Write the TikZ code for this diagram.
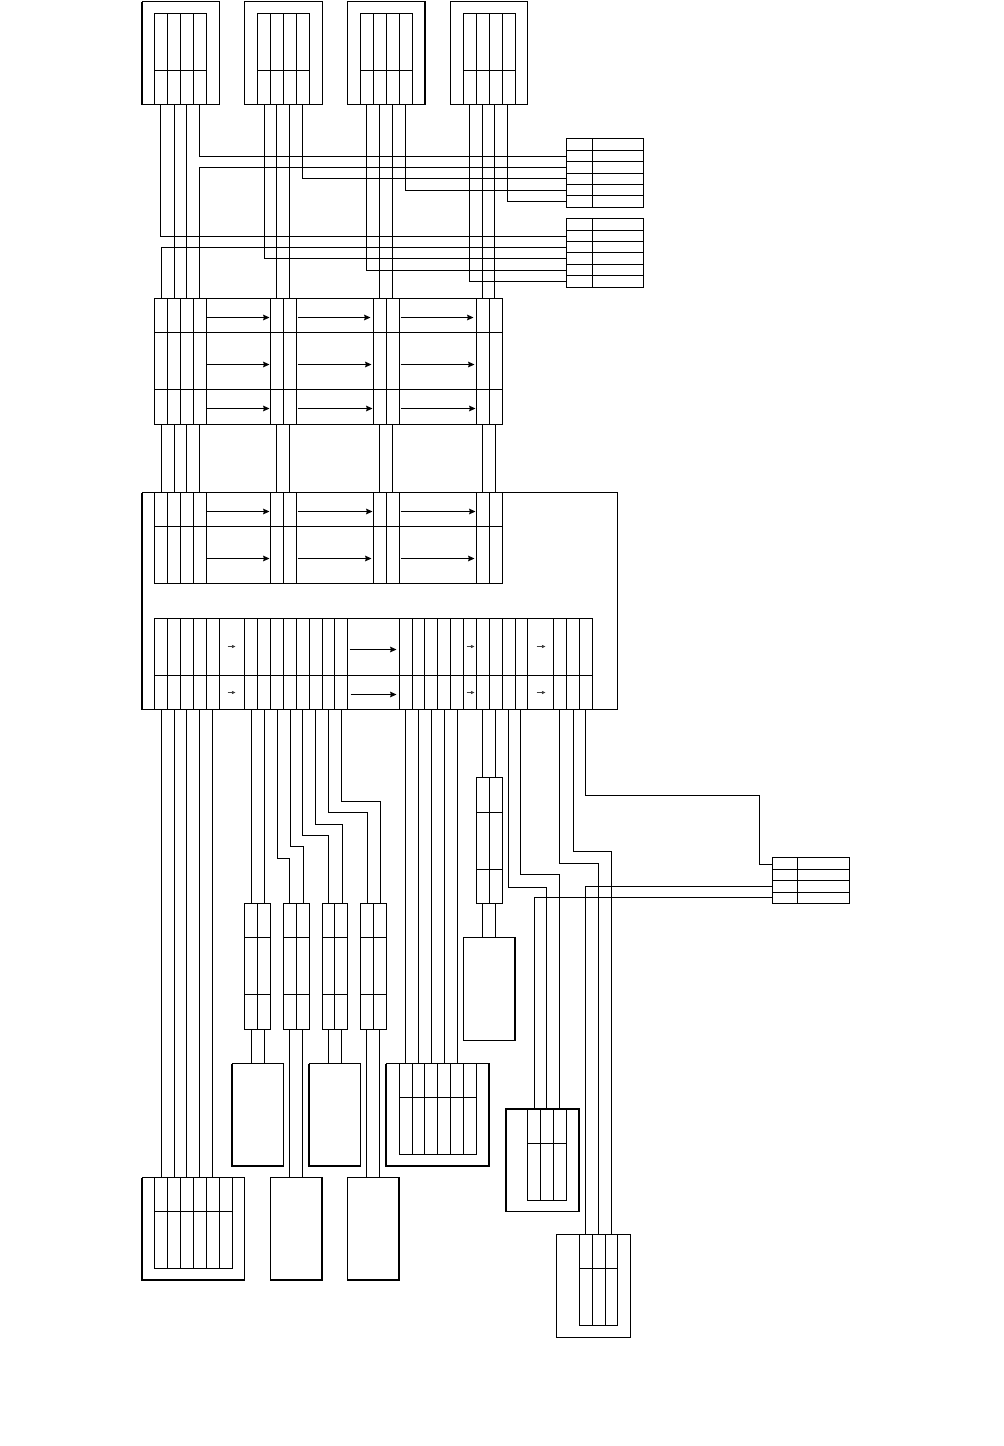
\documentclass[tikz,border=0pt]{standalone}
\usetikzlibrary{arrows.meta,calc}

\newcommand{\boxnode}[5]{%
  \node[box, minimum width={(#4-#2)*0.5pt}, minimum height={(#5-#3)*0.5pt}] (#1) at ({(#2+#4)/2},{(#3+#5)/2}) {};}
\newcommand{\gridbox}[7]{%
  \boxnode{#1}{#2}{#3}{#4}{#5}
  \foreach \x in {#6} \draw[rule] (\x,#3) -- (\x,#5);
  \foreach \y in {#7} \draw[rule] (#2,\y) -- (#4,\y);}
\newcommand{\cellarrows}[3]{%
  \foreach \a/\b/\y [count=\i] in {#3} {
    \coordinate (#1a\i) at (\a,\y);
    \coordinate (#1b\i) at (\b,\y);
    \draw[#2] (#1a\i) -- (#1b\i);
  }}

\begin{document}
\begin{tikzpicture}[
    x=0.5pt, y=-0.5pt, shift={(0.5,0.5)},
    box/.style={draw, inner sep=0pt, outer sep=0pt, line width=0.5pt},
    rule/.style={line width=0.5pt},
    wire/.style={line width=0.5pt},
    heavy/.style={line width=1pt, line cap=square},
    arr/.style={-{Stealth[length=3.2pt,width=2.8pt,inset=0.4pt]}, line width=0.5pt},
    smallarr/.style={-{Stealth[length=1.8pt,width=1.6pt,inset=0.2pt]}, line width=0.35pt, black!75}
]
\useasboundingbox (-0.5,-0.5) rectangle (1003.5,1445.5);

\boxnode{t1}{141.5}{1}{219}{104}
\gridbox{t1in}{154}{13}{206}{104}{167,180,193}{70}
\boxnode{t2}{244}{1}{322}{104}
\gridbox{t2in}{257}{13}{309}{104}{270,283,296}{70}
\boxnode{t3}{347}{1}{424.5}{104}
\gridbox{t3in}{360}{13}{412}{104}{373,386,399}{70}
\boxnode{t4}{450}{1}{527}{104}
\gridbox{t4in}{463}{13}{515}{104}{476,489,502}{70}
\draw[heavy] (t1.south west) -- (t1.north west);
\draw[heavy] (t3.south east) -- (t3.north east);

\gridbox{k1}{566}{138}{643}{207}{592}{150,161,173,184,195}
\gridbox{k2}{566}{218}{643}{287}{592}{230,241,252,264,275}

\gridbox{m1}{154}{298}{502}{424}{167,180,193,206,270,283,296,373,386,399,476,489}{332,389}
\cellarrows{mone}{arr}{206/269/317,206/269/364,206/269/408,297/370/317,297/371/364,297/372/408,400/473/317,400/474/364,400/475/408}

\boxnode{big}{141.5}{492}{617}{709}
\draw[heavy] (big.south west) -- (big.north west);
\gridbox{m2}{154}{492}{502}{583}{167,180,193,206,270,283,296,373,386,399,476,489}{526}
\cellarrows{mtwo}{arr}{206/269/511,206/269/558,297/372/511,297/371/558,400/475/511,400/474/558}
\gridbox{m3}{154}{618}{592}{709}{167,180,193,206,219,244,257,270,283,296,309,322,334,347,399,412,424,437,450,463,476,489,502,515,527,553,566,579}{675}
\cellarrows{mbig}{arr}{349/396/649,350/396/694}
\cellarrows{msmall}{smallarr}{227/235/646,227/235/692,466/474/646,466/474/692,536/545/646,536/545/692}

\gridbox{s1}{244}{903}{270}{1029}{257}{937,994}
\gridbox{s2}{283}{903}{309}{1029}{296}{937,994}
\gridbox{s3}{322}{903}{347}{1029}{334}{937,994}
\gridbox{s4}{360}{903}{386}{1029}{373}{937,994}
\gridbox{s5}{476}{777}{502}{903}{489}{812,869}
\gridbox{k3}{772}{857}{849}{903}{797}{869,880,892}

\boxnode{r1}{231.5}{1063}{283}{1165.5}
\boxnode{r2}{308.5}{1063}{360}{1165.5}
\boxnode{r3}{463}{937}{514.5}{1040}
\boxnode{e1}{141.5}{1177}{244}{1279.5}
\gridbox{e1in}{154}{1177}{232}{1268}{167,180,193,206,219}{1211}
\boxnode{e2}{270}{1177}{321.5}{1279.5}
\boxnode{e3}{347}{1177}{398.5}{1279.5}
\boxnode{e4}{385.5}{1063}{488.5}{1165.5}
\gridbox{e4in}{399}{1063}{476}{1154}{412,424,437,450,463}{1097}
\boxnode{e5}{505.5}{1108.5}{578.5}{1211}
\gridbox{e5in}{527}{1108.5}{566}{1200}{540,553}{1143}
\boxnode{e6}{556}{1234}{630}{1337}
\gridbox{e6in}{579}{1234}{617}{1325}{592,605}{1268}

\draw[heavy] (r1.north west) -- (r1.south west) -- (r1.south east);
\draw[heavy] (r2.north west) -- (r2.south west) -- (r2.south east);
\draw[heavy] (r3.north east) -- (r3.south east);
\draw[heavy] (e1.north west) -- (e1.south west) -- (e1.south east);
\draw[heavy] (e2.north east) -- (e2.south east) -- (e2.south west);
\draw[heavy] (e3.north east) -- (e3.south east) -- (e3.south west);
\draw[heavy] (e4.north west) -- (e4.south west) -- (e4.south east) -- (e4.north east);
\draw[heavy] (e5.south west) -- (e5.north west) -- (e5.north east) -- (e5.south east);

\draw[wire] (t1.south -| 160,0) |- (k2.west |- 0,236);
\draw[wire] (t1.south -| 199,0) |- (k1.west |- 0,156);
\draw[wire] (k1.west |- 0,167) -| (m1.north -| 199,0);
\draw[wire] (k2.west |- 0,247) -| (m1.north -| 161,0);
\draw[wire] (t2.south -| 264,0) |- (k2.west |- 0,258);
\draw[wire] (t2.south -| 302,0) |- (k1.west |- 0,178);
\draw[wire] (t3.south -| 366,0) |- (k2.west |- 0,270);
\draw[wire] (t3.south -| 405,0) |- (k1.west |- 0,190);
\draw[wire] (t4.south -| 469,0) |- (k2.west |- 0,281);
\draw[wire] (t4.south -| 507,0) |- (k1.west |- 0,201);
\foreach \x in {174,186} \draw[wire] (t1.south -| \x,0) -- (m1.north -| \x,0);
\foreach \x in {276,289} \draw[wire] (t2.south -| \x,0) -- (m1.north -| \x,0);
\foreach \x in {379,392} \draw[wire] (t3.south -| \x,0) -- (m1.north -| \x,0);
\foreach \x in {482,494} \draw[wire] (t4.south -| \x,0) -- (m1.north -| \x,0);
\foreach \x in {161,174,186,199,276,289,379,392,482,495} \draw[wire] (m1.south -| \x,0) -- (big.north -| \x,0);

\foreach \x in {161,174,186,199,212} \draw[wire] (big.south -| \x,0) -- (e1.north -| \x,0);
\foreach \x in {251,264} \draw[wire] (big.south -| \x,0) -- (s1.north -| \x,0);
\draw[wire] (big.south -| 277,0) |- (289,858) -- (s2.north -| 289,0);
\draw[wire] (big.south -| 290,0) |- (303,846) -- (s2.north -| 303,0);
\draw[wire] (big.south -| 302,0) |- (328,835) -- (s3.north -| 328,0);
\draw[wire] (big.south -| 315,0) |- (342,824) -- (s3.north -| 342,0);
\draw[wire] (big.south -| 328,0) |- (367,812) -- (s4.north -| 367,0);
\draw[wire] (big.south -| 341,0) |- (380,801) -- (s4.north -| 380,0);
\foreach \x in {251,264} \draw[wire] (s1.south -| \x,0) -- (r1.north -| \x,0);
\foreach \x in {289,302} \draw[wire] (s2.south -| \x,0) -- (e2.north -| \x,0);
\foreach \x in {328,341} \draw[wire] (s3.south -| \x,0) -- (r2.north -| \x,0);
\foreach \x in {366,379} \draw[wire] (s4.south -| \x,0) -- (e3.north -| \x,0);
\foreach \x in {405,418,431,444,457} \draw[wire] (big.south -| \x,0) -- (e4.north -| \x,0);
\foreach \x in {482,495} {
  \draw[wire] (big.south -| \x,0) -- (s5.north -| \x,0);
  \draw[wire] (s5.south -| \x,0) -- (r3.north -| \x,0);
}
\draw[wire] (big.south -| 508,0) |- (546,887) -- (e5.north -| 546,0);
\draw[wire] (big.south -| 520,0) |- (559,874) -- (e5.north -| 559,0);
\draw[wire] (k3.west |- 0,897) -| (e5.north -| 534,0);
\draw[wire] (big.south -| 559,0) |- (598,863) -- (e6.north -| 598,0);
\draw[wire] (big.south -| 573,0) |- (611,851) -- (e6.north -| 611,0);
\draw[wire] (k3.west |- 0,886) -| (e6.north -| 585,0);
\draw[wire] (big.south -| 585,0) |- (759,795) |- (k3.west |- 0,864);
\end{tikzpicture}
\end{document}
